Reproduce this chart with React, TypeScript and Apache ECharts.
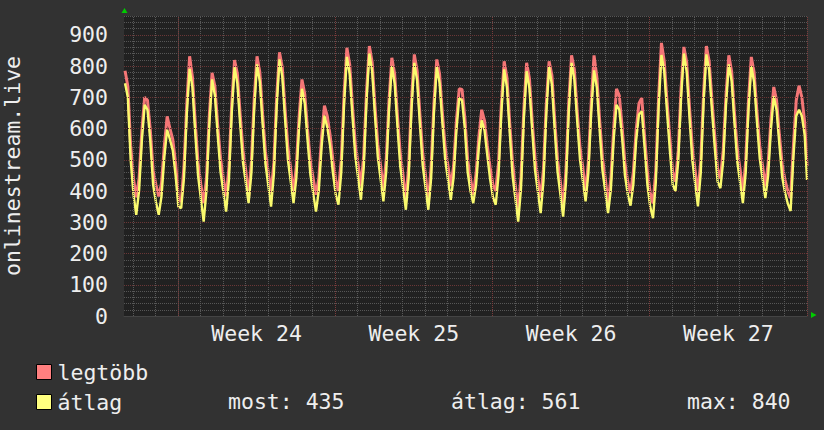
import React, { useEffect, useRef } from 'react';
import * as echarts from 'echarts';

// time axis: days relative to the start of Week 24 (Monday 00:00)
const START_HOUR = -56.5; // first sample, hours relative to Week 24 start
const STEP_HOURS = 3;
const X_MIN_DAYS = -2.4;
const X_MAX_DAYS = 28;

const weekLabels = ['Week 24', 'Week 25', 'Week 26', 'Week 27'];
const weekStarts = [0, 7, 14, 21, 28];
const yTicks = [0, 100, 200, 300, 400, 500, 600, 700, 800, 900];

const seriesNames = ['legtöbb', 'átlag'];
const statsLabels = ['most: 435', 'átlag: 561', 'max: 840'];

// max values (3-hour samples)
const legtobb = [
  785, 735, 545,
  440, 380, 440, 595, 700, 690, 595, 465,
  420, 383, 425, 545, 639, 600, 565, 490,
  380, 365, 480, 680, 831, 765, 620, 490,
  420, 361, 440, 640, 778, 735, 610, 505,
  440, 383, 475, 680, 819, 775, 645, 530,
  465, 380, 495, 695, 831, 780, 645, 525,
  460, 393, 490, 700, 844, 795, 660, 540,
  470, 393, 480, 640, 757, 710, 595, 495,
  440, 388, 440, 575, 673, 640, 580, 500,
  435, 400, 500, 710, 858, 805, 670, 550,
  485, 415, 515, 720, 864, 812, 672, 550,
  480, 404, 500, 690, 826, 775, 640, 520,
  450, 370, 480, 690, 837, 785, 645, 520,
  450, 360, 480, 680, 821, 775, 650, 540,
  480, 415, 480, 625, 727, 725, 635, 500,
  440, 388, 455, 575, 660, 625, 545, 475,
  420, 400, 490, 680, 815, 762, 615, 488,
  415, 340, 445, 660, 810, 760, 622, 505,
  440, 378, 470, 677, 815, 770, 628, 500,
  430, 350, 465, 683, 834, 788, 655, 540,
  475, 393, 495, 685, 834, 765, 627, 506,
  440, 360, 440, 600, 727, 705, 605, 490,
  430, 393, 460, 595, 680, 698, 575, 460,
  395, 360, 465, 700, 874, 815, 685, 570,
  460, 430, 530, 730, 861, 812, 668, 540,
  465, 393, 495, 712, 864, 815, 690, 575,
  470, 440, 530, 708, 834, 782, 650, 535,
  470, 393, 495, 690, 829, 780, 655, 545,
  480, 415, 488, 630, 733, 690, 580, 485,
  435, 400, 377, 545, 690, 737, 700, 620,
  480,
];

// average values (3-hour samples)
const atlag = [
  745, 700, 500,
  390, 324, 401, 563, 676, 660, 560, 420,
  365, 324, 384, 509, 596, 565, 530, 450,
  350, 345, 443, 648, 791, 732, 586, 449,
  375, 302, 402, 611, 757, 706, 579, 461,
  397, 334, 436, 650, 796, 744, 613, 492,
  426, 361, 459, 663, 805, 750, 614, 487,
  418, 350, 454, 670, 821, 766, 628, 499,
  430, 361, 442, 610, 727, 680, 562, 452,
  393, 334, 402, 543, 641, 605, 545, 460,
  390, 356, 460, 678, 829, 774, 637, 509,
  441, 372, 475, 690, 840, 783, 641, 509,
  438, 367, 462, 661, 800, 745, 607, 478,
  409, 340, 443, 660, 810, 754, 613, 481,
  410, 340, 441, 651, 797, 746, 619, 500,
  436, 372, 444, 594, 698, 690, 600, 460,
  400, 361, 419, 541, 626, 594, 513, 437,
  380, 356, 451, 650, 789, 731, 584, 448,
  375, 302, 408, 629, 783, 729, 592, 465,
  397, 329, 432, 647, 797, 740, 596, 462,
  390, 318, 426, 653, 810, 757, 624, 500,
  433, 367, 459, 652, 786, 731, 594, 466,
  398, 329, 405, 565, 676, 660, 570, 450,
  390, 353, 421, 562, 645, 655, 540, 420,
  350, 313, 428, 668, 835, 783, 652, 530,
  420, 399, 496, 699, 840, 781, 635, 498,
  424, 351, 458, 681, 837, 786, 657, 537,
  430, 409, 496, 678, 805, 752, 619, 494,
  428, 361, 458, 660, 800, 749, 622, 504,
  440, 377, 449, 599, 703, 659, 548, 445,
  395, 360, 336, 510, 640, 660, 640, 580,
  435,
];

const FONT = "'DejaVu Sans Mono', monospace";
const FS = 21.5;
const TEXT = '#eeeeee';
const RED = '#f47676';
const YELLOW = '#fafa6e';

const toDay = (i: number) => Math.min(X_MAX_DAYS, (START_HOUR + i * STEP_HOURS) / 24);

function buildOption() {
  const maxData = legtobb.map((v, i) => [toDay(i), v]);
  const avgData = atlag.map((v, i) => [toDay(i), v]);

  const gridLines: any[] = [];
  for (let d = Math.ceil(X_MIN_DAYS); d <= X_MAX_DAYS; d++) {
    const isWeek = weekStarts.includes(d);
    gridLines.push({
      xAxis: d,
      lineStyle: { color: isWeek ? '#7a3c3c' : '#585858', type: [1, 1], width: 1 },
    });
  }
  yTicks.forEach((v) => {
    if (v > 0) gridLines.push({ yAxis: v, lineStyle: { color: '#6a3636', type: [1, 1], width: 1 } });
  });

  return {
    animation: false,
    backgroundColor: '#323232',
    grid: {
      left: 124, right: 17, top: 16, bottom: 114,
      containLabel: false, outerBoundsMode: 'none',
      show: true, backgroundColor: '#212121', borderWidth: 0,
    },
    xAxis: {
      type: 'value',
      min: X_MIN_DAYS,
      max: X_MAX_DAYS,
      interval: 0.1,
      axisLine: { show: true, lineStyle: { color: '#444444' } },
      axisTick: { show: false },
      splitLine: { show: false },
      axisLabel: {
        color: TEXT,
        fontFamily: FONT,
        fontSize: FS,
        margin: 6,
        showMinLabel: false,
        showMaxLabel: false,
        formatter: (v: number) => {
          for (let k = 0; k < weekLabels.length; k++) {
            if (Math.abs(v - (weekStarts[k] + 3.5)) < 0.01) return weekLabels[k];
          }
          return '';
        },
      },
    },
    yAxis: {
      type: 'value',
      min: 0,
      max: 960,
      interval: 20,
      name: 'onlinestream.live',
      nameLocation: 'middle',
      nameGap: 101,
      nameRotate: 90,
      nameTextStyle: { color: TEXT, fontFamily: FONT, fontSize: FS },
      axisLine: { show: true, lineStyle: { color: '#444444' } },
      axisTick: { show: false },
      splitLine: { show: true, lineStyle: { color: '#565656', type: [1, 1], width: 1 } },
      axisLabel: {
        color: TEXT,
        fontFamily: FONT,
        fontSize: FS,
        margin: 16,
        formatter: (v: number) => (yTicks.includes(v) ? String(v) : ''),
      },
    },
    legend: {
      data: seriesNames,
      orient: 'vertical',
      left: 31,
      top: 356,
      icon: 'rect',
      itemWidth: 15,
      itemHeight: 15,
      itemGap: 8,
      itemStyle: { borderColor: '#000000', borderWidth: 1 },
      textStyle: { color: TEXT, fontFamily: FONT, fontSize: FS, lineHeight: 20, padding: [0, 0, 0, 1] },
      selectedMode: false,
    },
    series: [
      {
        type: 'line',
        name: '__grid',
        data: [],
        z: 1,
        silent: true,
        markLine: { silent: true, symbol: ['none', 'none'], label: { show: false }, data: gridLines },
      },
      {
        type: 'line',
        name: seriesNames[0],
        data: maxData,
        showSymbol: false,
        z: 3,
        lineStyle: { color: RED, width: 3 },
        itemStyle: { color: '#ff7f7f' },
      },
      {
        type: 'line',
        name: seriesNames[1],
        data: avgData,
        showSymbol: false,
        z: 4,
        lineStyle: { color: YELLOW, width: 2.4 },
        itemStyle: { color: '#ffff7f' },
      },
    ],
    graphic: [
      { type: 'polygon', shape: { points: [[121.5, 13], [127.5, 13], [124.5, 8]] }, style: { fill: '#00cc00' } },
      { type: 'polygon', shape: { points: [[811, 312], [811, 318], [816.5, 315]] }, style: { fill: '#00cc00' } },
      { type: 'text', x: 228, y: 401, style: { text: statsLabels[0], fill: TEXT, font: `${FS}px ${FONT}`, verticalAlign: 'middle' } },
      { type: 'text', x: 451, y: 401, style: { text: statsLabels[1], fill: TEXT, font: `${FS}px ${FONT}`, verticalAlign: 'middle' } },
      { type: 'text', x: 687, y: 401, style: { text: statsLabels[2], fill: TEXT, font: `${FS}px ${FONT}`, verticalAlign: 'middle' } },
    ],
  };
}

export default function App() {
  const ref = useRef<HTMLDivElement>(null);
  useEffect(() => {
    const chart = echarts.init(ref.current!, null, { renderer: 'svg' });
    chart.setOption(buildOption() as any);
    return () => chart.dispose();
  }, []);
  return <div ref={ref} style={{ position: 'fixed', left: 0, top: 0, width: 824, height: 430 }} />;
}
